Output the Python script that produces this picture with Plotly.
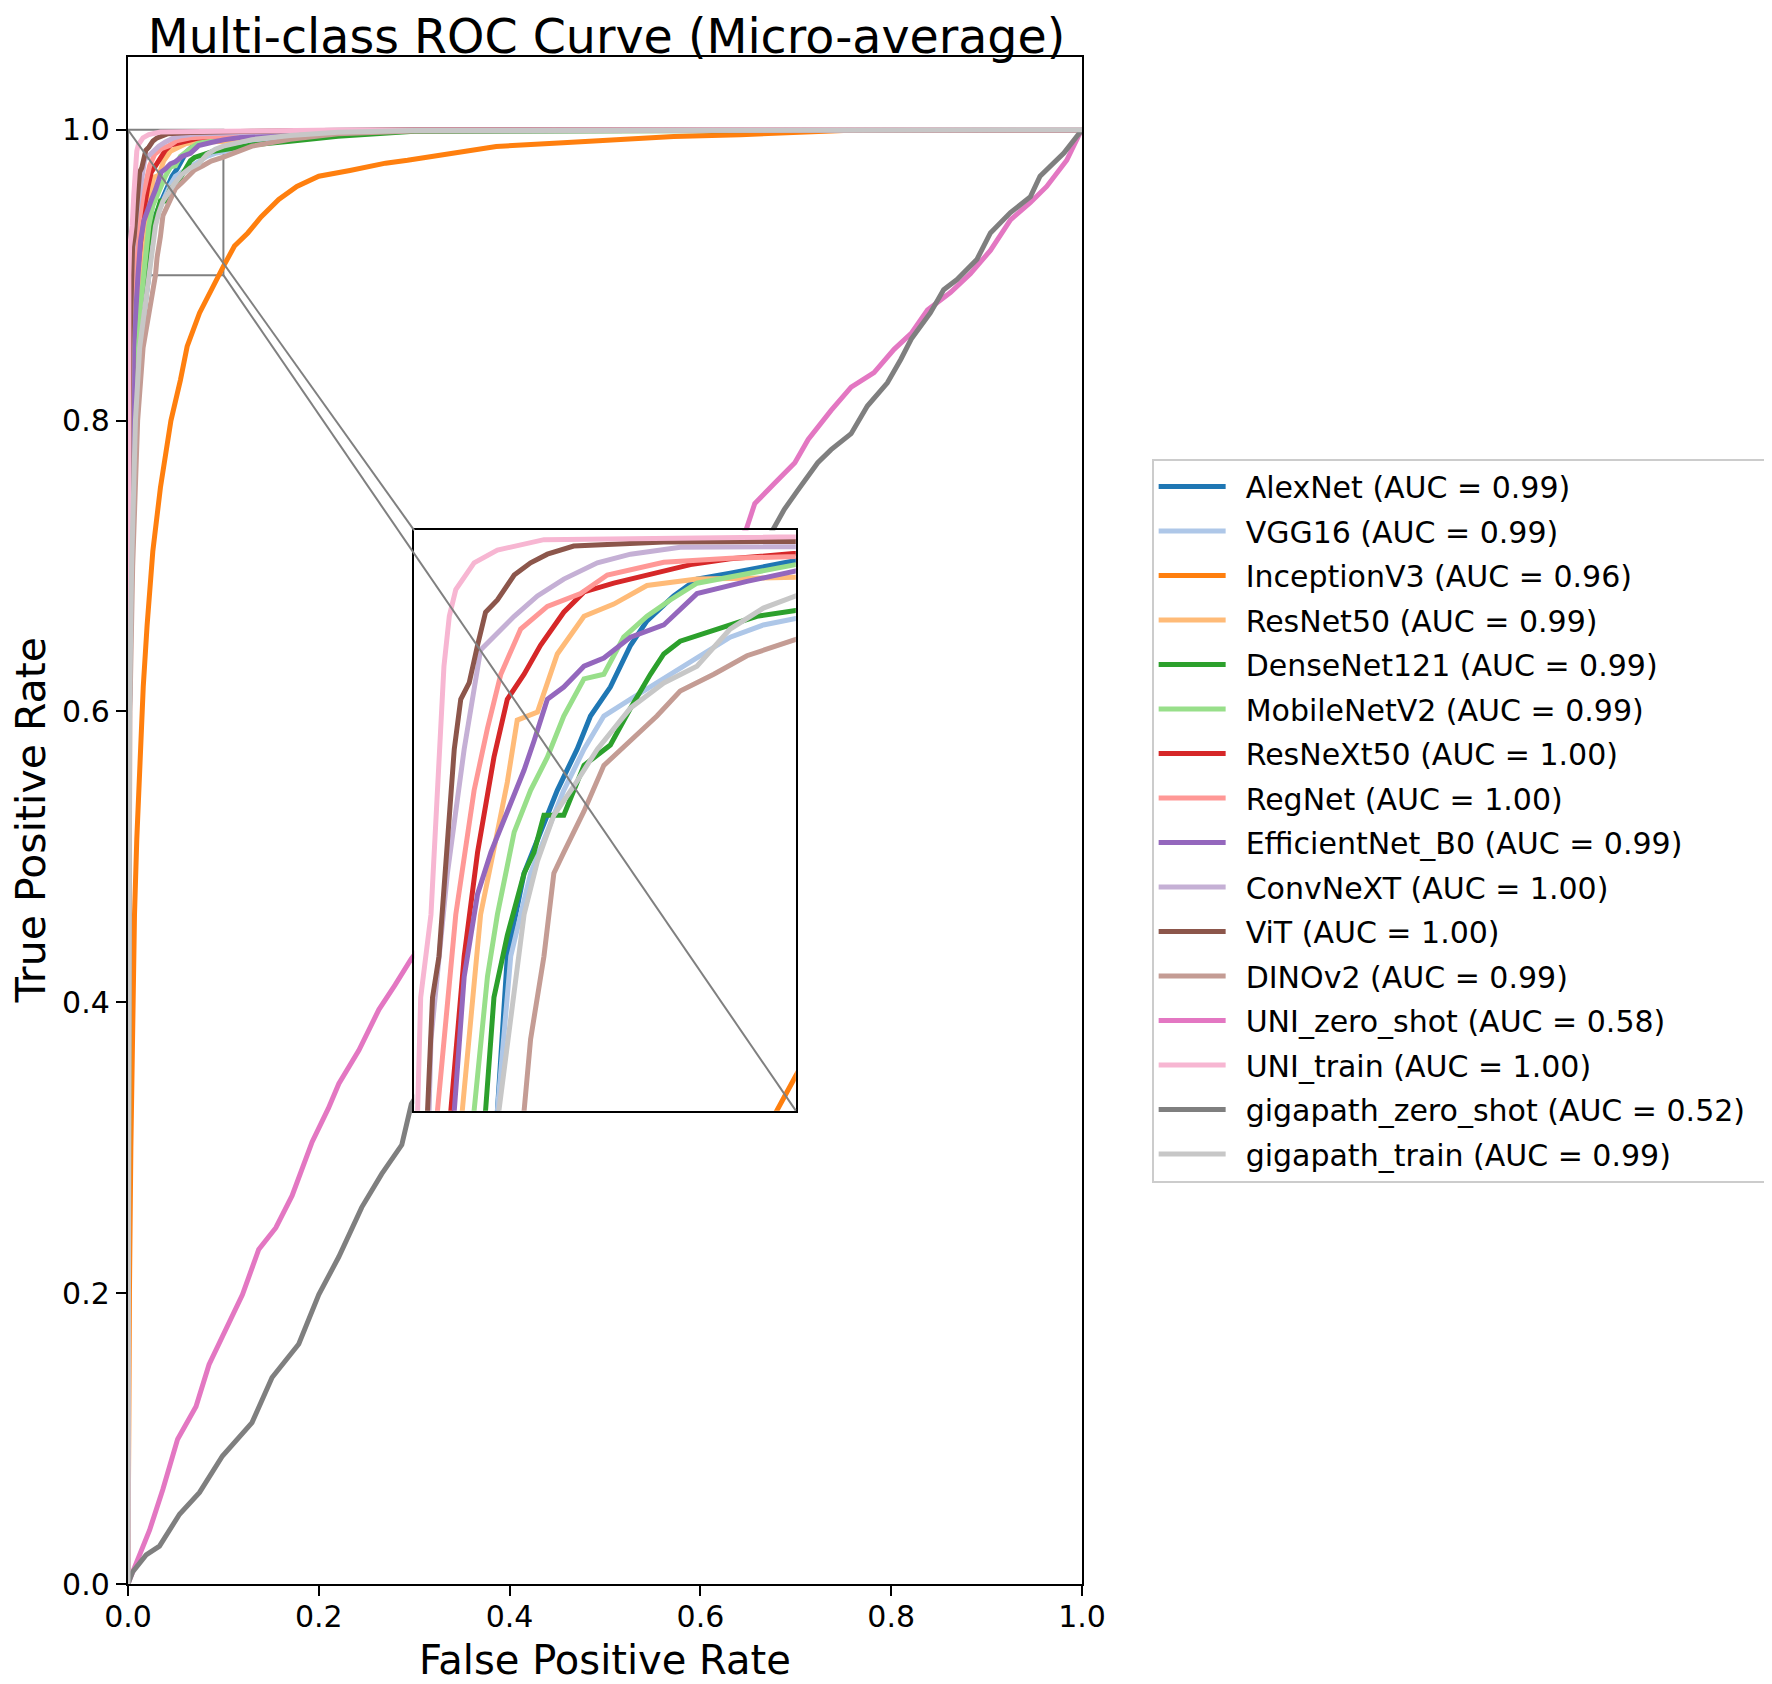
import plotly.graph_objects as go

# ---------------- data ----------------
MODELS = ["AlexNet", "VGG16", "InceptionV3", "ResNet50", "DenseNet121", "MobileNetV2",
          "ResNeXt50", "RegNet", "EfficientNet_B0", "ConvNeXT", "ViT", "DINOv2",
          "UNI_zero_shot", "UNI_train", "gigapath_zero_shot", "gigapath_train"]
AUC = [0.99, 0.99, 0.96, 0.99, 0.99, 0.99, 1.00, 1.00, 0.99, 1.00, 1.00, 0.99, 0.58, 1.00, 0.52, 0.99]

ALEXNET_FPR = [0, 0.0002, 0.0015, 0.0037, 0.0076, 0.012, 0.0218, 0.0244, 0.0288, 0.0331, 0.0375, 0.0427, 0.0462,
               0.0514, 0.0567, 0.0610, 0.0680, 0.0741, 0.0828, 0.1000, 0.13, 0.17, 0.22, 0.30, 1.0]
ALEXNET_TPR = [0, 0.3, 0.6, 0.7, 0.8, 0.85, 0.9, 0.9266, 0.9409, 0.948, 0.9552, 0.9623, 0.968,
               0.973, 0.9802, 0.9844, 0.9887, 0.9916, 0.9926, 0.9948, 0.9969, 0.9982, 0.9992, 0.9997, 1.0]

VGG16_FPR = [0, 0.0002, 0.0015, 0.0037, 0.0076, 0.012, 0.0218, 0.0253, 0.0305, 0.0357, 0.0392, 0.0445, 0.0497,
             0.0567, 0.0654, 0.0741, 0.0828, 0.0915, 0.1, 0.13, 0.17, 0.22, 0.3, 1.0]
VGG16_TPR = [0, 0.3, 0.6, 0.7, 0.8, 0.85, 0.9, 0.9266, 0.9409, 0.9495, 0.9552, 0.9623, 0.968,
             0.9709, 0.9744, 0.978, 0.9816, 0.9837, 0.9848, 0.9909, 0.9947, 0.9977, 0.9992, 1.0]

INCEPTION_FPR = [0, 0.0005, 0.0015, 0.003, 0.0052, 0.0068, 0.0092, 0.012, 0.016, 0.02, 0.026, 0.034, 0.045, 0.055,
                 0.062, 0.075, 0.0884, 0.1, 0.1116, 0.1256, 0.1395, 0.158, 0.177, 0.2, 0.2326, 0.27, 0.293, 0.34,
                 0.386, 0.456, 0.502, 0.572, 0.642, 0.702, 0.75, 1.0]
INCEPTION_TPR = [0, 0.1, 0.2, 0.3, 0.416, 0.46, 0.512, 0.565, 0.617, 0.659, 0.71, 0.754, 0.8, 0.828,
                 0.851, 0.874, 0.892, 0.906, 0.92, 0.929, 0.94, 0.952, 0.961, 0.968, 0.972, 0.977, 0.979, 0.984,
                 0.9885, 0.991, 0.993, 0.9954, 0.9966, 0.998, 0.9995, 1.0]

RESNET50_FPR = [0, 0.0001, 0.0009, 0.0021, 0.0044, 0.0069, 0.0126, 0.0174, 0.0218, 0.0244, 0.027, 0.0323, 0.0375,
                0.0445, 0.0523, 0.061, 0.0741, 0.1, 0.13, 0.17, 0.22, 0.3, 1.0]
RESNET50_TPR = [0, 0.3, 0.6, 0.7, 0.8, 0.85, 0.9, 0.9338, 0.948, 0.9566, 0.9673, 0.9687, 0.9787,
                0.9852, 0.9873, 0.9905, 0.9916, 0.9919, 0.9951, 0.9972, 0.9988, 0.9996, 1.0]

DENSENET_FPR = [0, 0.0001, 0.0013, 0.0032, 0.0065, 0.0103, 0.0187, 0.0209, 0.0244, 0.0288, 0.0314, 0.034, 0.0392,
                0.0445, 0.0514, 0.0567, 0.0619, 0.0654, 0.0697, 0.0828, 0.0898, 0.1, 0.13, 0.17, 0.22, 0.3, 1.0]
DENSENET_TPR = [0, 0.3, 0.6, 0.7, 0.8, 0.85, 0.9, 0.9195, 0.9302, 0.9409, 0.9445, 0.9509, 0.9509,
                0.9595, 0.963, 0.9694, 0.9752, 0.9787, 0.9809, 0.9837, 0.9852, 0.9862, 0.9895, 0.992, 0.9955, 0.999, 1.0]

MOBILENET_FPR = [0, 0.0001, 0.0011, 0.0027, 0.0055, 0.0086, 0.0157, 0.0192, 0.0218, 0.0262, 0.0305, 0.0349, 0.0392,
                 0.0445, 0.0497, 0.0549, 0.061, 0.0671, 0.0741, 0.1, 0.13, 0.17, 0.22, 0.3, 1.0]
MOBILENET_TPR = [0, 0.3, 0.6, 0.7, 0.8, 0.85, 0.9, 0.9231, 0.9338, 0.948, 0.9552, 0.9609, 0.968,
                 0.9744, 0.9752, 0.9816, 0.9852, 0.988, 0.9909, 0.9941, 0.9965, 0.9979, 0.9991, 0.9997, 1.0]

RESNEXT_FPR = [0, 0.0001, 0.0007, 0.0016, 0.0034, 0.0053, 0.0096, 0.0131, 0.0166, 0.0209, 0.0244, 0.0288, 0.0331,
               0.0392, 0.0445, 0.0523, 0.061, 0.0724, 0.0828, 0.1, 0.13, 0.17, 0.22, 0.3, 1.0]
RESNEXT_TPR = [0, 0.3, 0.6, 0.7, 0.8, 0.85, 0.9, 0.9266, 0.9445, 0.9609, 0.9709, 0.9752, 0.9802,
               0.9859, 0.9894, 0.9909, 0.9923, 0.9941, 0.9951, 0.9962, 0.9977, 0.9987, 0.9994, 0.9998, 1.0]

REGNET_FPR = [0, 0.0001, 0.0004, 0.001, 0.0021, 0.0034, 0.0061, 0.0109, 0.0157, 0.0192, 0.0227, 0.0279, 0.0349,
              0.0436, 0.0506, 0.0654, 0.0828, 0.1, 0.13, 0.17, 0.22, 0.3, 1.0]
REGNET_TPR = [0, 0.3, 0.6, 0.7, 0.8, 0.85, 0.9, 0.9338, 0.9552, 0.9659, 0.9752, 0.983, 0.9869,
              0.9891, 0.9923, 0.9945, 0.9952, 0.9955, 0.9973, 0.9984, 0.9993, 0.9998, 1.0]

EFFNET_FPR = [0, 0.0001, 0.0007, 0.0018, 0.0037, 0.0058, 0.0105, 0.0131, 0.0166, 0.0201, 0.0244, 0.0288, 0.0314,
              0.0349, 0.0392, 0.0445, 0.0497, 0.0567, 0.0654, 0.0741, 0.0872, 0.1, 0.13, 0.17, 0.22, 0.3, 1.0]
EFFNET_TPR = [0, 0.3, 0.6, 0.7, 0.8, 0.85, 0.9, 0.9231, 0.9373, 0.9445, 0.9516, 0.9587, 0.9637,
              0.9709, 0.973, 0.9766, 0.978, 0.9816, 0.9837, 0.9891, 0.9912, 0.993, 0.9958, 0.9976, 0.999, 0.9997, 1.0]

CONVNEXT_FPR = [0, 0.0001, 0.0003, 0.0007, 0.0014, 0.0021, 0.0039, 0.0044, 0.0087, 0.0131, 0.0174, 0.0209, 0.0262,
                0.0323, 0.0392, 0.048, 0.0567, 0.0697, 0.1, 0.13, 0.17, 0.22, 0.3, 1.0]
CONVNEXT_TPR = [0, 0.3, 0.6, 0.7, 0.8, 0.85, 0.9, 0.9123, 0.9409, 0.9623, 0.9794, 0.9816, 0.9852,
                0.9887, 0.9916, 0.9944, 0.9959, 0.9971, 0.9976, 0.9986, 0.9992, 0.9996, 0.9999, 1.0]

VIT_FPR = [0, 0.0001, 0.00025, 0.0006, 0.0012, 0.0019, 0.0035, 0.0048, 0.0065, 0.0105, 0.0122, 0.0144, 0.0166,
           0.0187, 0.0218, 0.0262, 0.0305, 0.0349, 0.0418, 0.0654, 0.1, 0.13, 0.17, 0.22, 0.3, 1.0]
VIT_TPR = [0, 0.3, 0.6, 0.7, 0.8, 0.85, 0.9, 0.9195, 0.9266, 0.9623, 0.9709, 0.9737, 0.9802,
           0.9859, 0.988, 0.9923, 0.9944, 0.9959, 0.9973, 0.998, 0.9981, 0.9989, 0.9993, 0.9997, 0.9999, 1.0]

DINOV2_FPR = [0, 0.0003, 0.002, 0.0049, 0.0101, 0.0158, 0.0288, 0.0305, 0.034, 0.0366, 0.0392, 0.0445, 0.0497,
              0.0567, 0.0636, 0.0697, 0.0785, 0.0872, 0.1, 0.13, 0.17, 0.22, 0.3, 1.0]
DINOV2_TPR = [0, 0.3, 0.6, 0.7, 0.8, 0.85, 0.9, 0.9123, 0.9266, 0.9409, 0.9445, 0.9516, 0.9595,
              0.9637, 0.968, 0.9723, 0.9752, 0.9784, 0.9812, 0.9887, 0.9934, 0.9972, 0.9991, 1.0]

UNI_ZS_FPR = [0, 0.0017, 0.0226, 0.0365, 0.052, 0.0713, 0.085, 0.103, 0.12, 0.137, 0.155, 0.172, 0.193, 0.21,
              0.221, 0.242, 0.263, 0.28, 0.297, 0.648, 0.657, 0.678, 0.699, 0.713, 0.737, 0.758, 0.782, 0.803,
              0.821, 0.838, 0.862, 0.883, 0.904, 0.925, 0.946, 0.963, 0.984, 0.998, 1.0]
UNI_ZS_TPR = [0, 0.003, 0.037, 0.065, 0.0996, 0.122, 0.151, 0.176, 0.199, 0.23, 0.245, 0.267, 0.304, 0.327,
              0.344, 0.367, 0.395, 0.412, 0.43, 0.725, 0.743, 0.757, 0.771, 0.787, 0.807, 0.823, 0.833, 0.849,
              0.86, 0.876, 0.888, 0.901, 0.917, 0.938, 0.95, 0.961, 0.979, 0.998, 1.0]

UNI_TRAIN_FPR = [0, 0.0001, 0.0002, 0.0003, 0.0005, 0.0009, 0.0017, 0.0044, 0.0061, 0.0078, 0.0092, 0.0109,
                 0.0157, 0.0218, 0.034, 0.1, 0.13, 0.17, 0.22, 1.0]
UNI_TRAIN_TPR = [0, 0.6, 0.7, 0.8, 0.85, 0.9, 0.9195, 0.9338, 0.9552, 0.9766, 0.9852, 0.9898,
                 0.9944, 0.9966, 0.9984, 0.9989, 0.9993, 0.9996, 0.9998, 1.0]

GIGA_ZS_FPR = [0, 0.005, 0.019, 0.033, 0.054, 0.075, 0.099, 0.13, 0.151, 0.179, 0.2, 0.221, 0.245, 0.266, 0.287,
               0.297, 0.676, 0.688, 0.702, 0.723, 0.737, 0.758, 0.775, 0.796, 0.81, 0.821, 0.841, 0.855, 0.869,
               0.89, 0.904, 0.925, 0.946, 0.956, 0.981, 1.0]
GIGA_ZS_TPR = [0, 0.0085, 0.02, 0.026, 0.048, 0.063, 0.088, 0.111, 0.142, 0.165, 0.199, 0.225, 0.259, 0.282, 0.302,
               0.33, 0.725, 0.739, 0.752, 0.771, 0.78, 0.791, 0.81, 0.826, 0.842, 0.856, 0.874, 0.89, 0.897,
               0.911, 0.929, 0.943, 0.954, 0.968, 0.984, 1.0]

GIGA_TRAIN_FPR = [0, 0.0002, 0.0016, 0.0038, 0.0078, 0.0122, 0.0222, 0.0288, 0.0323, 0.0366, 0.0418, 0.048, 0.0567,
                  0.0654, 0.0741, 0.0828, 0.0915, 0.1, 0.13, 0.17, 0.22, 0.3, 1.0]
GIGA_TRAIN_TPR = [0, 0.3, 0.6, 0.7, 0.8, 0.85, 0.9, 0.9338, 0.943, 0.9509, 0.9559, 0.9623, 0.9694,
                  0.9737, 0.9766, 0.983, 0.9866, 0.9887, 0.9932, 0.996, 0.9983, 0.9994, 1.0]

FPRS = [ALEXNET_FPR, VGG16_FPR, INCEPTION_FPR, RESNET50_FPR, DENSENET_FPR, MOBILENET_FPR, RESNEXT_FPR,
        REGNET_FPR, EFFNET_FPR, CONVNEXT_FPR, VIT_FPR, DINOV2_FPR, UNI_ZS_FPR, UNI_TRAIN_FPR, GIGA_ZS_FPR,
        GIGA_TRAIN_FPR]
TPRS = [ALEXNET_TPR, VGG16_TPR, INCEPTION_TPR, RESNET50_TPR, DENSENET_TPR, MOBILENET_TPR, RESNEXT_TPR,
        REGNET_TPR, EFFNET_TPR, CONVNEXT_TPR, VIT_TPR, DINOV2_TPR, UNI_ZS_TPR, UNI_TRAIN_TPR, GIGA_ZS_TPR,
        GIGA_TRAIN_TPR]

TICKS = [0.0, 0.2, 0.4, 0.6, 0.8, 1.0]
TICK_LABELS = ["0.0", "0.2", "0.4", "0.6", "0.8", "1.0"]

# zoomed region (inset)
ZOOM_X = [0.0, 0.1]
ZOOM_Y = [0.9, 1.0]

# ---------------- styles ----------------
COLORS = ["#1f77b4", "#aec7e8", "#ff7f0e", "#ffbb78", "#2ca02c", "#98df8a", "#d62728", "#ff9896",
          "#9467bd", "#c5b0d5", "#8c564b", "#c49c94", "#e377c2", "#f7b6d2", "#7f7f7f", "#c7c7c7"]
FONT = "DejaVu Sans"
LW = 5.0

W, H = 1772, 1676          # page adds an 8px body margin
ML, MR, MT, MB = 120, 695, 49, 100

fig = go.Figure()

for i, name in enumerate(MODELS):
    fig.add_trace(go.Scatter(
        x=FPRS[i], y=TPRS[i], mode="lines",
        name=f"\u2002{name} (AUC = {AUC[i]:.2f})\u2002",
        line=dict(color=COLORS[i], width=LW),
        legendgroup=name, xaxis="x", yaxis="y", hoverinfo="skip"))

for i, name in enumerate(MODELS):
    fig.add_trace(go.Scatter(
        x=FPRS[i], y=TPRS[i], mode="lines", showlegend=False,
        line=dict(color=COLORS[i], width=LW),
        legendgroup=name, xaxis="x2", yaxis="y2", hoverinfo="skip"))

INSET_DX = [0.3, 0.7]
INSET_DY = [0.31, 0.69]
Y_MAX = 1.05

axis_common = dict(showgrid=False, zeroline=False, showline=True, linecolor="black",
                   linewidth=2.4, mirror=True)

fig.update_layout(
    width=W, height=H,
    paper_bgcolor="white", plot_bgcolor="white",
    margin=dict(l=ML, r=MR, t=MT, b=MB),
    font=dict(family=FONT, color="black"),
    xaxis=dict(domain=[0, 1], range=[0, 1], tickvals=TICKS, ticktext=TICK_LABELS,
               ticks="outside", ticklen=10, tickwidth=2.4, tickcolor="black",
               ticklabelstandoff=-5,
               tickfont=dict(size=30, family=FONT), **axis_common),
    yaxis=dict(domain=[0, 1], range=[0, Y_MAX], tickvals=TICKS, ticktext=TICK_LABELS,
               ticks="outside", ticklen=10, tickwidth=2.4, tickcolor="black",
               tickfont=dict(size=30, family=FONT), **axis_common),
    xaxis2=dict(domain=INSET_DX, range=ZOOM_X, anchor="y2", showticklabels=False, ticks="",
                **axis_common),
    yaxis2=dict(domain=INSET_DY, range=ZOOM_Y, anchor="x2", showticklabels=False, ticks="",
                **axis_common),
    title=dict(text="Multi-class ROC Curve (Micro-average)",
               x=(ML + (W - MR)) / 2 / W, xanchor="center",
               y=1 - 28 / H, yanchor="middle",
               font=dict(size=47.5, family=FONT, color="black")),
    legend=dict(x=1.073, y=0.5, xanchor="left", yanchor="middle",
                bgcolor="white", bordercolor="#cccccc", borderwidth=2,
                font=dict(size=30, family=FONT, color="black"),
                tracegroupgap=2.5, itemwidth=67),
    showlegend=True,
)

# axis titles
fig.add_annotation(text="False Positive Rate", xref="paper", yref="paper", x=0.5, y=-0.0498,
                   xanchor="center", yanchor="middle", showarrow=False,
                   font=dict(size=40, family=FONT, color="black"))
fig.add_annotation(text="True Positive Rate", xref="paper", yref="paper", x=-0.102, y=0.5,
                   xanchor="center", yanchor="middle", textangle=-90, showarrow=False,
                   font=dict(size=41, family=FONT, color="black"))

# zoom rectangle and connector lines (mark_inset)
INSET_TOP = INSET_DY[1] * Y_MAX
INSET_BOTTOM = INSET_DY[0] * Y_MAX
fig.add_shape(type="rect", xref="x", yref="y", x0=ZOOM_X[0], x1=ZOOM_X[1], y0=ZOOM_Y[0], y1=ZOOM_Y[1],
              line=dict(color="#808080", width=2), layer="below")
fig.add_shape(type="line", xref="x", yref="y", x0=ZOOM_X[0], y0=ZOOM_Y[1], x1=INSET_DX[0], y1=INSET_TOP,
              line=dict(color="#808080", width=2), layer="above")
fig.add_shape(type="line", xref="x", yref="y", x0=ZOOM_X[1], y0=ZOOM_Y[0], x1=INSET_DX[1], y1=INSET_BOTTOM,
              line=dict(color="#808080", width=2), layer="above")

fig.write_html("out.html")
